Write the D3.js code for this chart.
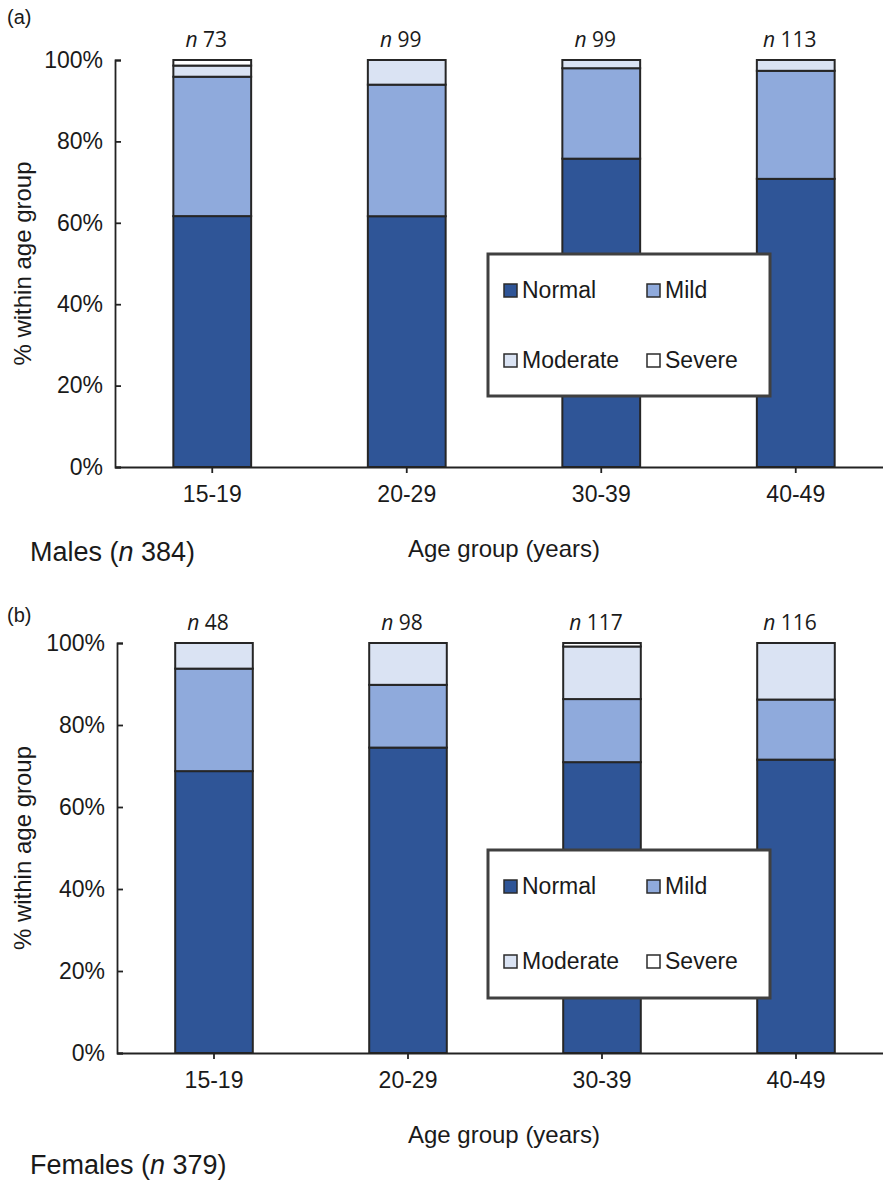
<!DOCTYPE html>
<html>
<head>
<meta charset="utf-8">
<script src="https://cdn.jsdelivr.net/npm/d3@7"></script>
<style>
  html, body { margin: 0; padding: 0; background: #fff; }
  svg text { font-family: "Liberation Sans", Arial, sans-serif; fill: #1a1a1a; }
</style>
</head>
<body>
<svg id="chart" width="883" height="1187"></svg>
<script>
// Age groups on the x axis
const ageGroups = ["15-19", "20-29", "30-39", "40-49"];
// Severity categories, bottom to top of each stacked bar
const severities = ["Normal", "Mild", "Moderate", "Severe"];
const severityColors = ["#2f5597", "#8faadc", "#dae3f3", "#ffffff"];
// Y axis ticks (percent within age group)
const yTicks = [0, 20, 40, 60, 80, 100];

// Males: counts per age group for each severity
const maleNormal   = [45, 61, 75, 80];
const maleMild     = [25, 32, 22, 30];
const maleModerate = [2, 6, 2, 3];
const maleSevere   = [1, 0, 0, 0];
const maleN        = [73, 99, 99, 113];

// Females: counts per age group for each severity
const femaleNormal   = [33, 73, 83, 83];
const femaleMild     = [12, 15, 18, 17];
const femaleModerate = [3, 10, 15, 16];
const femaleSevere   = [0, 0, 1, 0];
const femaleN        = [48, 98, 117, 116];

const svg = d3.select("#chart");
const FONT = "Liberation Sans, Arial, sans-serif";

function drawPanel(opts) {
  const { tag, tagY, top, bottom, left, series, totals, groupLabel, groupN, groupY, legendBox } = opts;
  const g = svg.append("g");

  const x = d3.scaleBand().domain(ageGroups).range([left, 893]).paddingInner(0.6).paddingOuter(0.3);
  const y = d3.scaleLinear().domain([0, 100]).range([bottom, top]);

  // rows of percentages for the stack
  const rows = ageGroups.map((a, i) => {
    const r = { group: a };
    severities.forEach((s, k) => { r[s] = series[k][i] / totals[i] * 100; });
    return r;
  });
  const stacked = d3.stack().keys(severities)(rows);

  // Stacked bars
  g.selectAll("g.layer").data(stacked).join("g")
    .attr("class", "layer")
    .attr("fill", (d, k) => severityColors[k])
    .selectAll("rect").data(d => d.filter(p => p[1] - p[0] > 0)).join("rect")
    .attr("x", d => x(d.data.group))
    .attr("width", x.bandwidth())
    .attr("y", d => y(d[1]))
    .attr("height", d => y(d[0]) - y(d[1]))
    .attr("stroke", "#262626")
    .attr("stroke-width", 2);

  // Y axis: ticks point into the plot
  const yAxis = g.append("g").attr("transform", `translate(${left},0)`)
    .call(d3.axisRight(y).tickValues(yTicks).tickSize(6).tickFormat(d => d + "%"));
  yAxis.select(".domain").attr("stroke", "#222").attr("stroke-width", 1.8);
  yAxis.selectAll(".tick line").attr("stroke", "#222").attr("stroke-width", 1.8);
  yAxis.selectAll(".tick text")
    .attr("x", -12).attr("text-anchor", "end")
    .style("font-size", "23px").style("font-family", FONT).attr("fill", "#1a1a1a");

  // X axis
  const xAxis = g.append("g").attr("transform", `translate(0,${bottom})`)
    .call(d3.axisBottom(x).tickSizeInner(6).tickSizeOuter(0));
  xAxis.select(".domain").attr("stroke", "#222").attr("stroke-width", 1.8);
  xAxis.selectAll(".tick line").attr("stroke", "#222").attr("stroke-width", 1.8);
  xAxis.selectAll(".tick text")
    .attr("y", 19)
    .style("font-size", "23px").style("font-family", FONT).attr("fill", "#1a1a1a");

  // n labels above each bar
  g.selectAll("text.nlab").data(ageGroups).join("text")
    .attr("class", "nlab")
    .attr("x", d => x(d) + x.bandwidth() / 2 - 6)
    .attr("y", top - 13)
    .attr("text-anchor", "middle")
    .style("font-family", "Open Sans, sans-serif")
    .style("font-size", "21px")
    .each(function (d, i) {
      const t = d3.select(this);
      t.append("tspan").style("font-style", "italic").text("n");
      t.append("tspan").text(" " + d3.sum(series, s => s[i]));
    });

  // Panel tag
  g.append("text").attr("x", 7).attr("y", tagY).style("font-size", "20px").text(tag);

  // Y axis title
  g.append("text")
    .attr("transform", `translate(31,${(top + bottom) / 2}) rotate(-90)`)
    .attr("text-anchor", "middle")
    .style("font-size", "24px")
    .text("% within age group");

  // X axis title
  g.append("text")
    .attr("x", 504).attr("y", bottom + 90)
    .attr("text-anchor", "middle")
    .style("font-size", "24px")
    .text("Age group (years)");

  // Group total label
  const gl = g.append("text").attr("x", 30).attr("y", groupY).style("font-size", "27px");
  gl.append("tspan").text(groupLabel + " (");
  gl.append("tspan").style("font-style", "italic").text("n");
  gl.append("tspan").text(" " + groupN + ")");

  // Legend box
  const lg = g.append("g");
  lg.append("rect")
    .attr("x", legendBox.x).attr("y", legendBox.y)
    .attr("width", legendBox.w).attr("height", legendBox.h)
    .attr("fill", "#fff").attr("stroke", "#404040").attr("stroke-width", 3);
  const cols = [legendBox.x + 16, legendBox.x + 159];
  const rowsY = [legendBox.y + 36, legendBox.y + legendBox.rowGap];
  severities.forEach((s, k) => {
    const cx = cols[k % 2], cy = rowsY[Math.floor(k / 2)];
    lg.append("rect").attr("x", cx).attr("y", cy - 6).attr("width", 13).attr("height", 13)
      .attr("fill", severityColors[k]).attr("stroke", "#2b2b2b").attr("stroke-width", 1.5);
    lg.append("text").attr("x", cx + 18).attr("y", cy + 8).style("font-size", "23px").text(s);
  });
}

drawPanel({
  tag: "(a)", tagY: 24, top: 60, bottom: 467, left: 115,
  series: [maleNormal, maleMild, maleModerate, maleSevere], totals: maleN,
  groupLabel: "Males", groupN: 384, groupY: 561,
  legendBox: { x: 488, y: 254, w: 282, h: 142, rowGap: 106 }
});

drawPanel({
  tag: "(b)", tagY: 622, top: 643, bottom: 1053, left: 117,
  series: [femaleNormal, femaleMild, femaleModerate, femaleSevere], totals: femaleN,
  groupLabel: "Females", groupN: 379, groupY: 1174,
  legendBox: { x: 488, y: 850, w: 282, h: 148, rowGap: 111 }
});
</script>
</body>
</html>
